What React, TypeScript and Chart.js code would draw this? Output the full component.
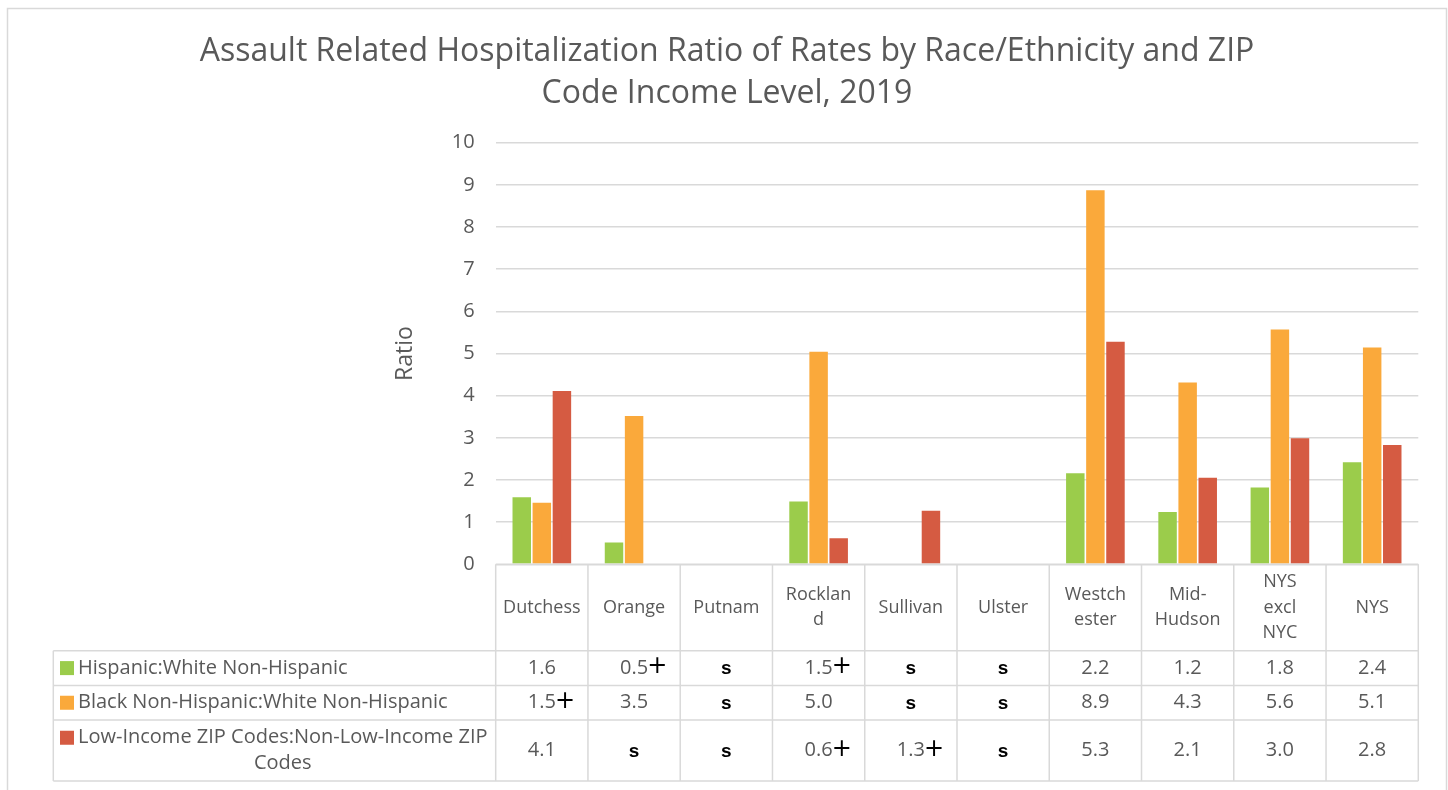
import React, { useEffect, useRef } from "react";
import { Chart, registerables } from "chart.js";

Chart.register(...registerables);

// ---------- data ----------
const titleLines = [
  "Assault Related Hospitalization Ratio of Rates by Race/Ethnicity and ZIP",
  "Code Income Level, 2019",
];
const yAxisTitle = "Ratio";
const categories = [
  ["Dutchess"],
  ["Orange"],
  ["Putnam"],
  ["Rocklan", "d"],
  ["Sullivan"],
  ["Ulster"],
  ["Westch", "ester"],
  ["Mid-", "Hudson"],
  ["NYS", "excl", "NYC"],
  ["NYS"],
];
const seriesLegendLines = [
  ["Hispanic:White Non-Hispanic"],
  ["Black Non-Hispanic:White Non-Hispanic"],
  ["Low-Income ZIP Codes:Non-Low-Income ZIP", "Codes"],
];
const hispanicValues = [1.59, 0.52, null, 1.49, null, null, 2.16, 1.24, 1.82, 2.42];
const blackValues = [1.46, 3.52, null, 5.04, null, null, 8.87, 4.31, 5.57, 5.14];
const lowIncomeValues = [4.11, null, null, 0.62, 1.27, null, 5.28, 2.05, 2.99, 2.83];
const hispanicTable = ["1.6", "0.5+", "s", "1.5+", "s", "s", "2.2", "1.2", "1.8", "2.4"];
const blackTable = ["1.5+", "3.5", "s", "5.0", "s", "s", "8.9", "4.3", "5.6", "5.1"];
const lowIncomeTable = ["4.1", "s", "s", "0.6+", "1.3+", "s", "5.3", "2.1", "3.0", "2.8"];
const yMin = 0;
const yMax = 10;
const yStep = 1;

// ---------- styles ----------
const COLORS = ["#9BCC4B", "#FAA93B", "#D55B42"];
const TEXT = "#595959";
const LINE = "#D9D9D9";
const FONT = "'Open Sans', Lato, sans-serif";

const tablePlugin = {
  id: "dataTableAndTitle",
  afterDraw(chart: any) {
    const { ctx, chartArea } = chart;
    const xs = chart.scales.x;
    const n = categories.length;
    const colW = (chartArea.right - chartArea.left) / n;
    const tTop = chartArea.bottom;
    const rowLines = [tTop, tTop + 86.4, tTop + 121.2, tTop + 155.7, tTop + 216.7];
    const legendLeft = 53.3;

    ctx.save();
    // outer frame
    ctx.strokeStyle = LINE;
    ctx.lineWidth = 1.5;
    ctx.strokeRect(7.5, 8.5, 1439, 900);

    // title
    ctx.fillStyle = TEXT;
    ctx.font = `32px ${FONT}`;
    ctx.textAlign = "center";
    ctx.textBaseline = "alphabetic";
    titleLines.forEach((t, i) => ctx.fillText(t, 727, 61 + i * 42));

    // table grid
    ctx.strokeStyle = LINE;
    ctx.lineWidth = 1.5;
    ctx.beginPath();
    ctx.moveTo(chartArea.left, rowLines[0]);
    ctx.lineTo(chartArea.right, rowLines[0]);
    for (let r = 1; r < rowLines.length; r++) {
      ctx.moveTo(legendLeft, rowLines[r]);
      ctx.lineTo(chartArea.right, rowLines[r]);
    }
    for (let c = 0; c <= n; c++) {
      const x = chartArea.left + c * colW;
      ctx.moveTo(x, rowLines[0]);
      ctx.lineTo(x, rowLines[rowLines.length - 1]);
    }
    ctx.moveTo(legendLeft, rowLines[1]);
    ctx.lineTo(legendLeft, rowLines[rowLines.length - 1]);
    ctx.stroke();

    // header labels
    ctx.font = `18px ${FONT}`;
    ctx.fillStyle = TEXT;
    ctx.textAlign = "center";
    ctx.textBaseline = "middle";
    const headerMid = (rowLines[0] + rowLines[1]) / 2;
    const lh = 25.5;
    categories.forEach((lines, i) => {
      const cx = xs.getPixelForValue(i);
      const start = headerMid - ((lines.length - 1) * lh) / 2;
      lines.forEach((l, k) => ctx.fillText(l, cx, start + k * lh));
    });

    // rows
    const tables = [hispanicTable, blackTable, lowIncomeTable];
    tables.forEach((row, r) => {
      const mid = (rowLines[r + 1] + rowLines[r + 2]) / 2;
      // legend
      const legLines = seriesLegendLines[r];
      const lineStart = mid - ((legLines.length - 1) * lh) / 2;
      ctx.fillStyle = COLORS[r];
      ctx.fillRect(60, lineStart - 7, 14, 14);
      ctx.font = `20px ${FONT}`;
      ctx.fillStyle = TEXT;
      ctx.textAlign = "left";
      const firstW = ctx.measureText(legLines[0]).width;
      ctx.fillText(legLines[0], 78, lineStart);
      ctx.textAlign = "center";
      for (let k = 1; k < legLines.length; k++) {
        ctx.fillText(legLines[k], 78 + firstW / 2, lineStart + k * lh);
      }
      // values
      row.forEach((v, i) => {
        const cx = xs.getPixelForValue(i);
        if (v === "s") {
          ctx.font = "bold 19px 'Liberation Sans', sans-serif";
          ctx.fillStyle = "#000";
          ctx.textAlign = "center";
          ctx.fillText("s", cx, mid + 1);
          return;
        }
        const plus = v.endsWith("+");
        const num = plus ? v.slice(0, -1) : v;
        ctx.font = `20px ${FONT}`;
        ctx.fillStyle = TEXT;
        ctx.textAlign = "center";
        ctx.fillText(num, cx, mid);
        if (plus) {
          const w = ctx.measureText(num).width;
          ctx.font = "24px 'DejaVu Sans', sans-serif";
          ctx.fillStyle = "#000";
          ctx.textAlign = "left";
          ctx.fillText("+", cx + w / 2 - 1, mid - 1);
        }
      });
    });
    ctx.restore();
  },
};

export default function App() {
  const canvasRef = useRef<HTMLCanvasElement | null>(null);

  useEffect(() => {
    if (!canvasRef.current) return;
    const ticks: number[] = [];
    for (let v = yMin; v <= yMax; v += yStep) ticks.push(v);
    const chart = new Chart(canvasRef.current, {
      type: "bar",
      data: {
        labels: categories,
        datasets: [hispanicValues, blackValues, lowIncomeValues].map((d, i) => ({
          label: seriesLegendLines[i].join(" "),
          data: d,
          backgroundColor: COLORS[i],
          borderWidth: 0,
          categoryPercentage: 0.653,
          barPercentage: 0.92,
        })),
      },
      options: {
        responsive: false,
        animation: false,
        layout: { padding: { left: 388, right: 29.7, top: 142.7, bottom: 225.7 } },
        plugins: {
          legend: { display: false },
          title: { display: false },
          tooltip: { enabled: false },
        },
        scales: {
          x: { display: false },
          y: {
            min: yMin,
            max: yMax,
            afterFit: (s: any) => {
              s.width = 107.7;
            },
            afterBuildTicks: (s: any) => {
              s.ticks = ticks.map((v) => ({ value: v }));
            },
            ticks: {
              stepSize: yStep,
              padding: 21,
              color: TEXT,
              font: { family: FONT, size: 20 },
            },
            grid: { color: LINE, lineWidth: 1.5, drawTicks: false },
            border: { display: false },
            title: {
              display: true,
              text: yAxisTitle,
              color: TEXT,
              font: { family: FONT, size: 23 },
            },
          },
        },
      },
      plugins: [tablePlugin],
    });
    return () => chart.destroy();
  }, []);

  return (
    <div style={{ position: "absolute", left: 0, top: 0, width: 1448, height: 790, background: "#fff" }}>
      <canvas ref={canvasRef} width={1448} height={790} style={{ display: "block" }} />
    </div>
  );
}
